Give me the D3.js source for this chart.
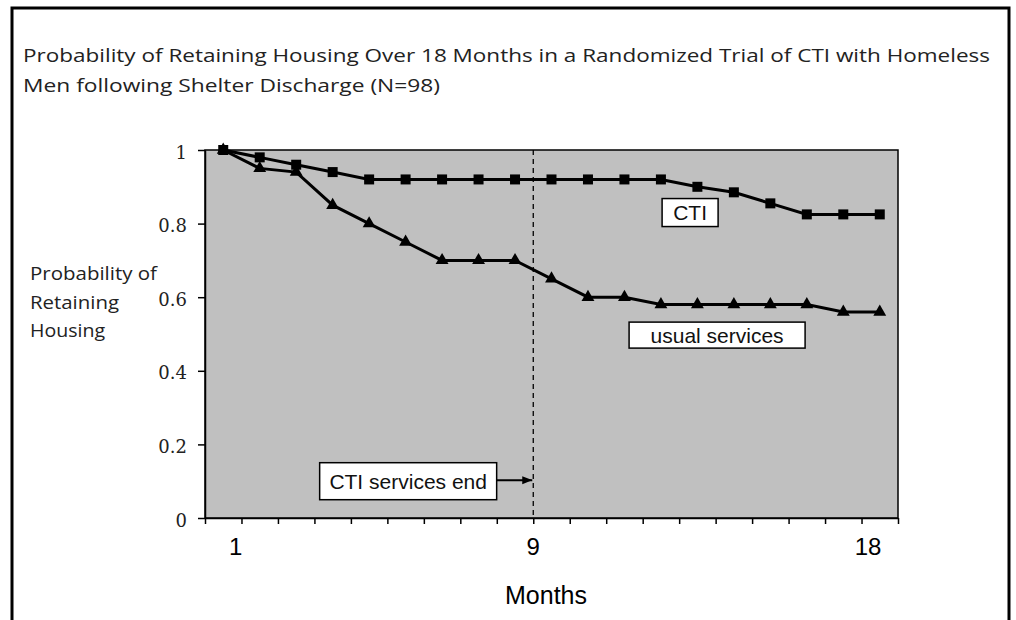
<!DOCTYPE html>
<html>
<head>
<meta charset="utf-8">
<script src="https://cdn.jsdelivr.net/npm/d3@7/dist/d3.min.js"></script>
<style>
body { margin: 0; background: #fff; }
svg { display: block; }
</style>
</head>
<body>
<div id="chart"></div>
<script>
// values
var titleLines = ["Probability of Retaining Housing Over 18 Months in a Randomized Trial of CTI with Homeless",
                  "Men following Shelter Discharge (N=98)"];
var yTitleLines = ["Probability of", "Retaining", "Housing"];
var ctiValues = [1.00, 0.98, 0.96, 0.94, 0.92, 0.92, 0.92, 0.92, 0.92, 0.92,
                 0.92, 0.92, 0.92, 0.90, 0.885, 0.855, 0.825, 0.825, 0.825];
var usualValues = [1.00, 0.95, 0.94, 0.85, 0.80, 0.75, 0.70, 0.70, 0.70, 0.65,
                   0.60, 0.60, 0.58, 0.58, 0.58, 0.58, 0.58, 0.56, 0.56];
var yTicks = [0, 0.2, 0.4, 0.6, 0.8, 1];
var monthLabels = [1, 9, 18];
var servicesEndMonth = 9;
var labelNames = ["CTI", "usual services", "CTI services end"];
var labelPoint = [12.8, 13.54, 5.07];   // in point index units
var labelValue = [0.83, 0.497, 0.10];

var width = 1016, height = 620;
var plot = {left: 205, right: 898, top: 150, bottom: 518};

// box sizes of the hand placed text boxes
var boxSize = {
    "CTI": [56, 28],
    "usual services": [176, 26],
    "CTI services end": [177, 37]
};
// widths of the Calibri lines in the picture
var titleWidths = [967, 417];
var yTitleWidths = [127, 89, 75];

var svg = d3.select("#chart").append("svg")
    .attr("width", width)
    .attr("height", height);

var x = d3.scaleLinear()
    .domain([-0.5, ctiValues.length - 0.5])
    .range([plot.left, plot.right]);
var y = d3.scaleLinear()
    .domain([0, 1])
    .range([plot.bottom, plot.top]);
// the month numbers were typed in by hand, slightly off the category grid
var monthX = d3.scaleLinear()
    .domain([1, 18])
    .range([235.7, 868.1]);

// outer frame
svg.append("path")
    .attr("d", "M12," + height + "V8H1009V" + height)
    .attr("fill", "none")
    .attr("stroke", "#000")
    .attr("stroke-width", 3);

// title
svg.append("g").selectAll("text")
    .data(titleLines)
    .enter()
    .append("text")
    .attr("x", 23)
    .attr("y", function (d, i) { return 62 + i * 30; })
    .attr("font-family", "'Open Sans', Lato, sans-serif")
    .attr("font-size", "19px")
    .attr("fill", "#222")
    .attr("textLength", function (d, i) { return titleWidths[i]; })
    .attr("lengthAdjust", "spacingAndGlyphs")
    .text(function (d) { return d; });

// plot background
svg.append("rect")
    .attr("x", plot.left)
    .attr("y", plot.top)
    .attr("width", plot.right - plot.left)
    .attr("height", plot.bottom - plot.top)
    .attr("fill", "#c0c0c0")
    .attr("stroke", "#000")
    .attr("stroke-width", 1.5);

// Y axis
var yAxis = svg.append("g")
    .attr("transform", "translate(" + plot.left + ",0)")
    .call(d3.axisLeft(y)
        .tickValues(yTicks)
        .tickSize(7)
        .tickSizeOuter(0)
        .tickPadding(11)
        .tickFormat(d3.format("")));
yAxis.selectAll("text")
    .attr("font-family", "'DejaVu Serif', serif")
    .attr("font-size", "18px")
    .attr("fill", "#222")
    .attr("dy", "0.45em");
yAxis.selectAll("line, path").attr("stroke", "#000").attr("stroke-width", 1.5);

// X axis, ticks between the categories
var xAxis = svg.append("g")
    .attr("transform", "translate(0," + plot.bottom + ")")
    .call(d3.axisBottom(x)
        .tickValues(d3.range(-0.5, ctiValues.length, 1))
        .tickSize(6)
        .tickSizeOuter(0)
        .tickFormat(""));
xAxis.selectAll("line, path").attr("stroke", "#000").attr("stroke-width", 1.5);

svg.append("g").selectAll("text")
    .data(monthLabels)
    .enter()
    .append("text")
    .attr("x", function (d) { return monthX(d); })
    .attr("y", 555)
    .attr("text-anchor", "middle")
    .attr("font-family", "'Liberation Sans', Arial, sans-serif")
    .attr("font-size", "24px")
    .text(function (d) { return d; });

svg.append("text")
    .attr("x", 546)
    .attr("y", 604)
    .attr("text-anchor", "middle")
    .attr("font-family", "'Liberation Sans', Arial, sans-serif")
    .attr("font-size", "25px")
    .text("Months");

// Y title
svg.append("g").selectAll("text")
    .data(yTitleLines)
    .enter()
    .append("text")
    .attr("x", 30)
    .attr("y", function (d, i) { return 280 + i * 28.7; })
    .attr("font-family", "'Open Sans', Lato, sans-serif")
    .attr("font-size", "18.5px")
    .attr("fill", "#222")
    .attr("textLength", function (d, i) { return yTitleWidths[i]; })
    .attr("lengthAdjust", "spacingAndGlyphs")
    .text(function (d) { return d; });

// dashed line where CTI ends
svg.append("line")
    .attr("x1", x(servicesEndMonth - 0.5))
    .attr("x2", x(servicesEndMonth - 0.5))
    .attr("y1", plot.top)
    .attr("y2", plot.bottom)
    .attr("stroke", "#000")
    .attr("stroke-width", 1.3)
    .attr("stroke-dasharray", "5,4");

// the lines
var line = d3.line()
    .x(function (d, i) { return x(i); })
    .y(function (d) { return y(d); });

svg.append("path")
    .datum(usualValues)
    .attr("fill", "none")
    .attr("stroke", "#000")
    .attr("stroke-width", 3)
    .attr("d", line);
svg.append("path")
    .datum(ctiValues)
    .attr("fill", "none")
    .attr("stroke", "#000")
    .attr("stroke-width", 3)
    .attr("d", line);

// triangle markers
svg.append("g").selectAll("path")
    .data(usualValues)
    .enter()
    .append("path")
    .attr("d", d3.symbol(d3.symbolTriangle).size(72))
    .attr("transform", function (d, i) { return "translate(" + x(i) + "," + y(d) + ")"; })
    .attr("fill", "#000");

// square markers
svg.append("g").selectAll("rect")
    .data(ctiValues)
    .enter()
    .append("rect")
    .attr("x", function (d, i) { return x(i) - 5; })
    .attr("y", function (d) { return y(d) - 5; })
    .attr("width", 10)
    .attr("height", 10)
    .attr("fill", "#000");

// arrow head
svg.append("defs").append("marker")
    .attr("id", "arrow")
    .attr("viewBox", "0 0 10 10")
    .attr("refX", 10)
    .attr("refY", 5)
    .attr("markerWidth", 5)
    .attr("markerHeight", 5)
    .attr("orient", "auto")
    .append("path")
    .attr("d", "M0,1L10,5L0,9Z")
    .attr("fill", "#000");

// text boxes
labelNames.forEach(function (name, i) {
    var cx = x(labelPoint[i]), cy = y(labelValue[i]);
    var size = boxSize[name];
    svg.append("rect")
        .attr("x", cx - size[0] / 2)
        .attr("y", cy - size[1] / 2)
        .attr("width", size[0])
        .attr("height", size[1])
        .attr("fill", "#fff")
        .attr("stroke", "#000")
        .attr("stroke-width", 1.5);
    svg.append("text")
        .attr("x", cx)
        .attr("y", cy)
        .attr("dy", "0.36em")
        .attr("text-anchor", "middle")
        .attr("font-family", "'Liberation Sans', Arial, sans-serif")
        .attr("font-size", "21px")
        .attr("fill", "#111")
        .text(name);
    if (name === "CTI services end") {
        svg.append("line")
            .attr("x1", cx + size[0] / 2)
            .attr("x2", x(servicesEndMonth - 0.5) - 1)
            .attr("y1", cy - 1)
            .attr("y2", cy - 1)
            .attr("stroke", "#000")
            .attr("stroke-width", 2)
            .attr("marker-end", "url(#arrow)");
    }
});
</script>
</body>
</html>
